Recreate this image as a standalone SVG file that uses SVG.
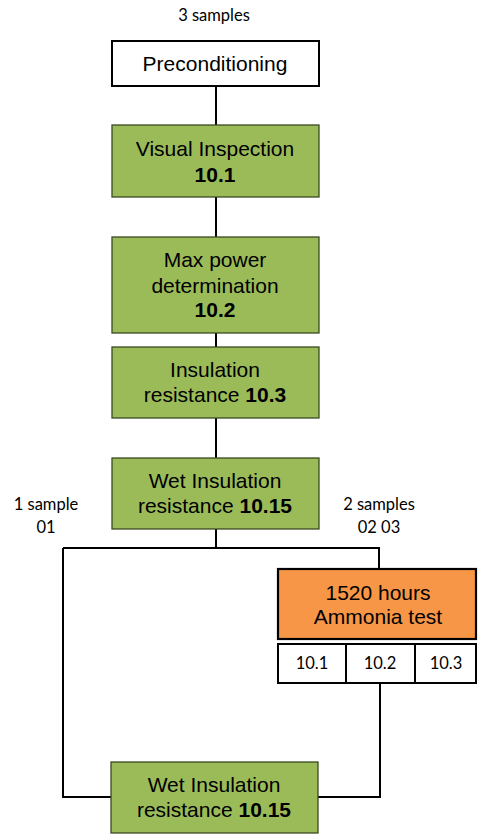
<svg xmlns="http://www.w3.org/2000/svg" width="478" height="834" viewBox="0 0 478 834">
<style>
.g{fill:#9BBB59;stroke:#3a4a1f;stroke-width:1.3}
.w{fill:#fff;stroke:#000;stroke-width:2}
.o{fill:#F79646;stroke:#000;stroke-width:2.2}
.t{font-family:"Liberation Sans",Arial,sans-serif;font-size:21px;fill:#000;text-anchor:middle}
.b{font-weight:bold}
.s{font-family:Lato,"Open Sans",sans-serif;font-size:16.5px;fill:#000;text-anchor:middle}
.c{fill:none;stroke:#000;stroke-width:2}
</style>
<g id="connectors">
<path class="c" d="M216 86V125M216 197V237M216 333V347M216 418V458M216 529V548M63 548H379V569M63 548V797H111M380 683V797H318"/>
</g>
<text class="s" x="214" y="21">3 samples</text>
<g id="preconditioning">
<rect class="w" x="112" y="41" width="207" height="45"/>
<text class="t" x="215" y="71">Preconditioning</text>
</g>
<g id="visual">
<rect class="g" x="112" y="125" width="207" height="72"/>
<text class="t" x="215" y="156">Visual Inspection</text>
<text class="t b" x="215" y="182">10.1</text>
</g>
<g id="maxpower">
<rect class="g" x="112" y="237" width="207" height="96"/>
<text class="t" x="215" y="267">Max power</text>
<text class="t" x="215" y="293">determination</text>
<text class="t b" x="215" y="317">10.2</text>
</g>
<g id="insulation">
<rect class="g" x="112" y="347" width="207" height="71"/>
<text class="t" x="215" y="377">Insulation</text>
<text class="t" x="215" y="402">resistance <tspan class="b">10.3</tspan></text>
</g>
<g id="wet1">
<rect class="g" x="112" y="458" width="207" height="71"/>
<text class="t" x="215" y="488">Wet Insulation</text>
<text class="t" x="215" y="513">resistance <tspan class="b">10.15</tspan></text>
</g>
<g id="labels">
<text class="s" x="46" y="510">1 sample</text>
<text class="s" x="46" y="533">01</text>
<text class="s" x="379" y="510">2 samples</text>
<text class="s" x="379" y="533">02 03</text>
</g>
<g id="ammonia">
<rect class="o" x="278" y="569" width="198" height="70"/>
<text class="t" x="378" y="600">1520 hours</text>
<text class="t" x="378" y="624">Ammonia test</text>
</g>
<g id="tests">
<rect class="w" x="278" y="644" width="68" height="39"/>
<rect class="w" x="346" y="644" width="69" height="39"/>
<rect class="w" x="415" y="644" width="61" height="39"/>
<text class="s" x="312" y="669">10.1</text>
<text class="s" x="380" y="669">10.2</text>
<text class="s" x="446" y="669">10.3</text>
</g>
<g id="wet2">
<rect class="g" x="111" y="762" width="207" height="71"/>
<text class="t" x="214" y="792">Wet Insulation</text>
<text class="t" x="214" y="817">resistance <tspan class="b">10.15</tspan></text>
</g>
</svg>
